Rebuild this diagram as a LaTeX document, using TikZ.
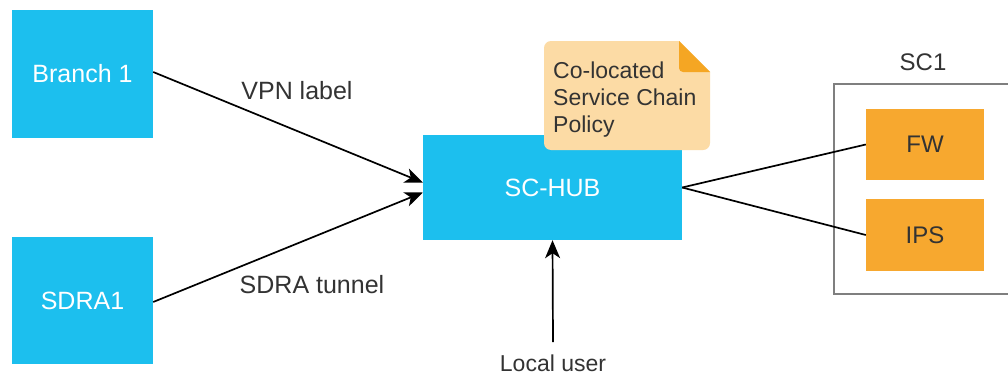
\documentclass[tikz,border=0pt]{standalone}
\usepackage{fontspec}
\setmainfont{Liberation Sans}
\usetikzlibrary{arrows.meta,calc}
\definecolor{hubblue}{HTML}{1CBFEE}
\definecolor{fworange}{HTML}{F7A82F}
\definecolor{notefill}{HTML}{FCDBA5}
\definecolor{notefold}{HTML}{F5A623}
\definecolor{txtgray}{HTML}{333333}
\definecolor{boxgray}{HTML}{7F7F7F}
\begin{document}
\begin{tikzpicture}[x=1pt,y=-1pt,
  bluebox/.style={fill=hubblue,draw=none,text=white,font=\fontsize{25}{30}\selectfont,inner sep=0pt},
  orangebox/.style={fill=fworange,draw=none,text=txtgray,font=\fontsize{24}{29}\selectfont,inner sep=0pt,minimum width=118pt},
  lbl/.style={text=txtgray,font=\fontsize{25}{30}\selectfont,inner sep=0pt},
  conn/.style={line width=1.7pt,black},
  arr/.style={conn,-{Stealth[length=18pt,width=15pt,inset=5pt]}}]
\useasboundingbox (0,0) rectangle (1008,375);
\fill[white] (0,0) rectangle (1008,375);
% SC1 container
\draw[boxgray,line width=2.2pt] (834,84) rectangle (1020,294);
\node[lbl,font=\fontsize{24}{29}\selectfont] (sc1) at (923,62) {SC1};
% nodes
\node[bluebox,minimum width=141pt,minimum height=128pt] (b1) at (82.5,74) {Branch 1};
\node[bluebox,minimum width=141pt,minimum height=127pt] (sdra) at (82.5,300.5) {SDRA1};
\node[bluebox,minimum width=259pt,minimum height=105pt] (hub) at (552.5,187.5) {SC-HUB};
\node[orangebox,minimum height=71pt] (fw) at (925,144.5) {FW};
\node[orangebox,minimum height=72pt] (ips) at (925,235) {IPS};
% note
\fill[notefill,rounded corners=7pt] (544,150) -- (544,41) [sharp corners] -- (679,41) -- (710,72) [rounded corners=7pt] -- (710,150) -- cycle;
\fill[notefold] (679,41) [rounded corners=4pt] -- (679,72) [sharp corners] -- (710,72) -- cycle;
\node[lbl,font=\fontsize{23}{27}\selectfont,align=left,anchor=north west,inner sep=0pt] (note) at (553,62) {Co-located\\Service Chain\\Policy};
% connectors
\draw[arr] (b1.east |- 0,72) -- ([yshift=5pt]hub.west);
\draw[arr] (sdra.east |- 0,302) -- ([yshift=-5pt]hub.west);
\node[lbl] (vpn) at (297,91) {VPN label};
\node[lbl] (sdt) at (312,285) {SDRA tunnel};
\draw[conn] (hub.east) -- (fw.west);
\draw[conn] (hub.east) -- (ips.west);
\coordinate (lu) at (553,342);
\draw[arr] (lu) -- (hub.south);
\node[lbl,font=\fontsize{23}{27}\selectfont] (user) at (553,363) {Local user};
\end{tikzpicture}
\end{document}
